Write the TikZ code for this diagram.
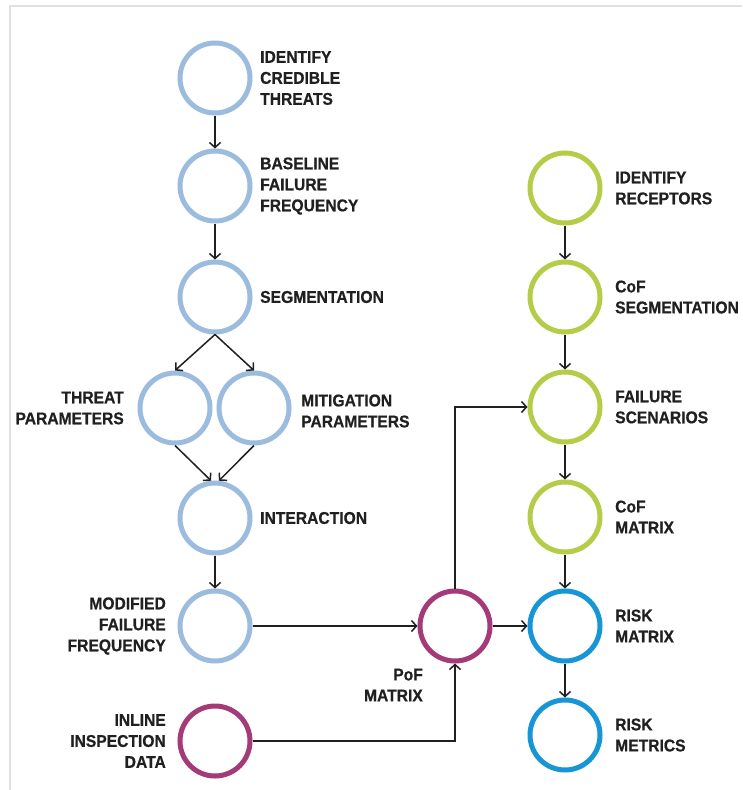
\documentclass[tikz,border=0pt]{standalone}
\usepackage{fontspec}
\newfontfamily\lblfont{Liberation Sans}[FakeStretch=0.92,BoldFeatures={FakeBold=0.6}]
\usetikzlibrary{arrows.meta}
\definecolor{ltblue}{RGB}{155,188,222}
\definecolor{lgreen}{RGB}{180,204,72}
\definecolor{plum}{RGB}{165,58,120}
\definecolor{skyb}{RGB}{22,150,214}
\definecolor{ink}{RGB}{32,32,32}
\definecolor{frame}{RGB}{225,225,225}
\tikzset{
  x=1pt, y=-1pt,
  ring/.style={circle, draw=#1, line width=5pt, minimum size=70pt, inner sep=0pt},
  lbl/.style={font=\lblfont\bfseries\fontsize{17}{21}\selectfont, text=ink, inner sep=0pt},
  rl/.style={lbl, anchor=west, align=left},
  ll/.style={lbl, anchor=east, align=right},
  conn/.style={draw=ink, line width=1.5pt, -{Straight Barb[length=5pt,width=11pt,line width=1.5pt]}},
}
\begin{document}
\begin{tikzpicture}
\useasboundingbox (0,0) rectangle (742,790);
\fill[white] (0,0) rectangle (742,790);
\draw[frame, line width=2pt] (10,790) -- (10,6) -- (742,6);

% left chain
\node[ring=ltblue] (idt) at (215,78) {};
\node[ring=ltblue] (base) at (215,186) {};
\node[ring=ltblue] (seg) at (215,297) {};
\node[ring=ltblue] (thr) at (175,408) {};
\node[ring=ltblue] (mit) at (254,408) {};
\node[ring=ltblue] (inter) at (215,518) {};
\node[ring=ltblue] (mod) at (215,626) {};
\node[ring=plum] (ili) at (215,741) {};
\node[ring=plum] (pof) at (455,626) {};
% right chain
\node[ring=lgreen] (rec) at (565,188) {};
\node[ring=lgreen] (cseg) at (565,297) {};
\node[ring=lgreen] (fsc) at (565,407) {};
\node[ring=lgreen] (cmat) at (565,517) {};
\node[ring=skyb] (rmat) at (565,626) {};
\node[ring=skyb] (rmet) at (565,735) {};

% labels
\node[rl] (tidt) at (260,78) {IDENTIFY\\CREDIBLE\\THREATS};
\node[rl] (tbase) at (260,186) {BASELINE\\FAILURE\\FREQUENCY};
\node[rl] (tseg) at (260,297) {SEGMENTATION};
\node[ll] (tthr) at (124,408) {THREAT\\PARAMETERS};
\node[rl] (tmit) at (301,411) {MITIGATION\\PARAMETERS};
\node[rl] (tinter) at (260,518) {INTERACTION};
\node[ll] (tmod) at (166,626) {MODIFIED\\FAILURE\\FREQUENCY};
\node[ll] (tili) at (166,741) {INLINE\\INSPECTION\\DATA};
\node[ll] (tpof) at (423,685) {PoF\\MATRIX};
\node[rl] (trec) at (615,188) {IDENTIFY\\RECEPTORS};
\node[rl] (tcseg) at (615,297) {CoF\\SEGMENTATION};
\node[rl] (tfsc) at (615,407) {FAILURE\\SCENARIOS};
\node[rl] (tcmat) at (615,517) {CoF\\MATRIX};
\node[rl] (trmat) at (615,626) {RISK\\MATRIX};
\node[rl] (trmet) at (615,735) {RISK\\METRICS};

% connectors
\draw[conn] (idt) -- (base);
\draw[conn] (base) -- (seg);
\draw[conn] (seg.south) -- (thr.north);
\draw[conn] (seg.south) -- (mit.north);
\draw[conn] (thr.south) -- (inter.96);
\draw[conn] (mit.south) -- (inter.84);
\draw[conn] (inter) -- (mod);
\draw[conn] (mod.east) -- (pof.west);
\draw[conn] (ili.east) -| (pof.south);
\draw[conn] (pof.north) |- (fsc.west);
\draw[conn] (pof.east) -- (rmat.west);
\draw[conn] (rec) -- (cseg);
\draw[conn] (cseg) -- (fsc);
\draw[conn] (fsc) -- (cmat);
\draw[conn] (cmat) -- (rmat);
\draw[conn] (rmat) -- (rmet);
\end{tikzpicture}
\end{document}
